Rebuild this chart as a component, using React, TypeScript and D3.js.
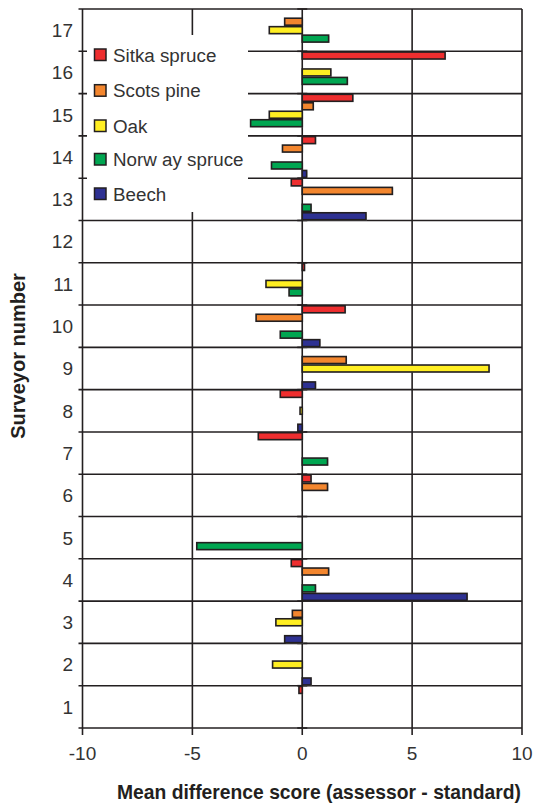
import React from "react";
import * as d3 from "d3";

const categories = ["1","2","3","4","5","6","7","8","9","10","11","12","13","14","15","16","17"];
const seriesNames = ["Sitka spruce", "Scots pine", "Oak", "Norw ay spruce", "Beech"];
const seriesColors = ["#EE2E2F", "#F3862E", "#FFEE22", "#00A651", "#2E3192"];
const sitka = [-0.15, 0, 0, -0.5, 0, 0.4, -2.0, -1.0, 0, 1.95, 0.1, 0, -0.5, 0.6, 2.3, 6.5, 0];
const scots = [0, 0, -0.45, 1.2, 0, 1.15, 0, 0, 2.0, -2.1, 0, 0, 4.1, -0.9, 0.5, 0, -0.8];
const oak = [0, -1.35, -1.2, 0, 0, 0, 0, -0.1, 8.5, 0, -1.65, 0, 0, 0, -1.5, 1.3, -1.5];
const norway = [0, 0, 0, 0.6, -4.8, 0, 1.15, 0, 0, -1.0, -0.6, 0, 0.4, -1.4, -2.35, 2.05, 1.2];
const beech = [0, 0.4, -0.8, 7.5, 0, 0, 0, -0.2, 0.6, 0.8, 0, 0, 2.9, 0.2, 0, 0, 0];
const seriesValues = [sitka, scots, oak, norway, beech];
const xTicks = [-10, -5, 0, 5, 10];

const W = 538, H = 805;
const FONT = "'Liberation Sans', Arial, sans-serif";
const INK = "#231F20";

export default function App() {
  const x = d3.scaleLinear().domain([-10, 10]).range([82.5, 522]);
  const y = d3.scaleBand<string>().domain([...categories].reverse()).range([9, 728]).padding(0);
  const inner = d3.scaleBand<string>().domain(seriesNames).range([0, y.bandwidth()]).padding(0);
  const top = 9, bottom = 728;
  const boundaries = d3.range(categories.length + 1).map((i) => top + i * y.bandwidth());
  const legend = { x0: 87, x1: 248, y0: 35, y1: 212 };
  const legendYs = [55, 90.7, 126, 159.5, 194];

  const bars: any[] = [];
  seriesValues.forEach((vals, si) => {
    vals.forEach((v, ci) => {
      if (v === 0) return;
      const y0 = (y(categories[ci]) as number) + (inner(seriesNames[si]) as number);
      const x0 = Math.min(x(0), x(v));
      const w = Math.abs(x(v) - x(0));
      bars.push({ key: `${si}-${ci}`, x0, w, y0, h: inner.bandwidth(), color: seriesColors[si] });
    });
  });

  return (
    <svg width={W} height={H} style={{ position: "absolute", left: 0, top: 0, background: "#fff" }}>
      {xTicks.map((t) => (
        <line key={"v" + t} x1={x(t)} x2={x(t)} y1={top} y2={bottom} stroke={INK} strokeWidth={1.6} />
      ))}
      {boundaries.map((b, i) => (
        <line key={"h" + i} x1={x(-10) - 4} x2={x(10)} y1={b} y2={b} stroke={INK} strokeWidth={1.6} />
      ))}
      {boundaries.map((b, i) => (
        <line key={"zt" + i} x1={x(0) - 5} x2={x(0) + 5} y1={b} y2={b} stroke={INK} strokeWidth={1.6} />
      ))}
      {xTicks.map((t) => (
        <line key={"bt" + t} x1={x(t)} x2={x(t)} y1={bottom} y2={bottom + 7} stroke={INK} strokeWidth={1.6} />
      ))}
      <rect x={legend.x0} y={legend.y0} width={legend.x1 - legend.x0} height={legend.y1 - legend.y0} fill="#fff" />
      {bars.map((b) => (
        <g key={b.key}>
          <rect x={b.x0 + 1} y={b.y0 + 1.5} width={b.w} height={b.h - 1.5} fill="#bbb" opacity={0.6} />
          <rect x={b.x0} y={b.y0 + 0.75} width={b.w} height={b.h - 1.5} fill={b.color} stroke={INK} strokeWidth={1.6} />
        </g>
      ))}
      {seriesNames.map((n, i) => (
        <g key={"lg" + n}>
          <rect x={94.5} y={legendYs[i] - 6} width={11.5} height={11.5} fill={seriesColors[i]} stroke={INK} strokeWidth={1.5} />
          <text x={113} y={legendYs[i]} dy="0.36em" fontFamily={FONT} fontSize={18.8} fill="#333">{n}</text>
        </g>
      ))}
      {categories.map((c) => (
        <text key={"yl" + c} x={73} y={(y(c) as number) + y.bandwidth() / 2} dy="0.36em" textAnchor="end"
          fontFamily={FONT} fontSize={19} fill="#333">{c}</text>
      ))}
      {xTicks.map((t) => (
        <text key={"xl" + t} x={x(t)} y={753} dy="0.36em" textAnchor="middle" fontFamily={FONT} fontSize={19} fill="#333">{t}</text>
      ))}
      <text x={319} y={799} textAnchor="middle" fontFamily={FONT} fontSize={19.3} fontWeight="bold" fill={INK}>
        Mean difference score (assessor - standard)
      </text>
      <text transform={`translate(25,356) rotate(-90)`} textAnchor="middle" fontFamily={FONT} fontSize={20} fontWeight="bold" fill={INK}>
        Surveyor number
      </text>
    </svg>
  );
}
